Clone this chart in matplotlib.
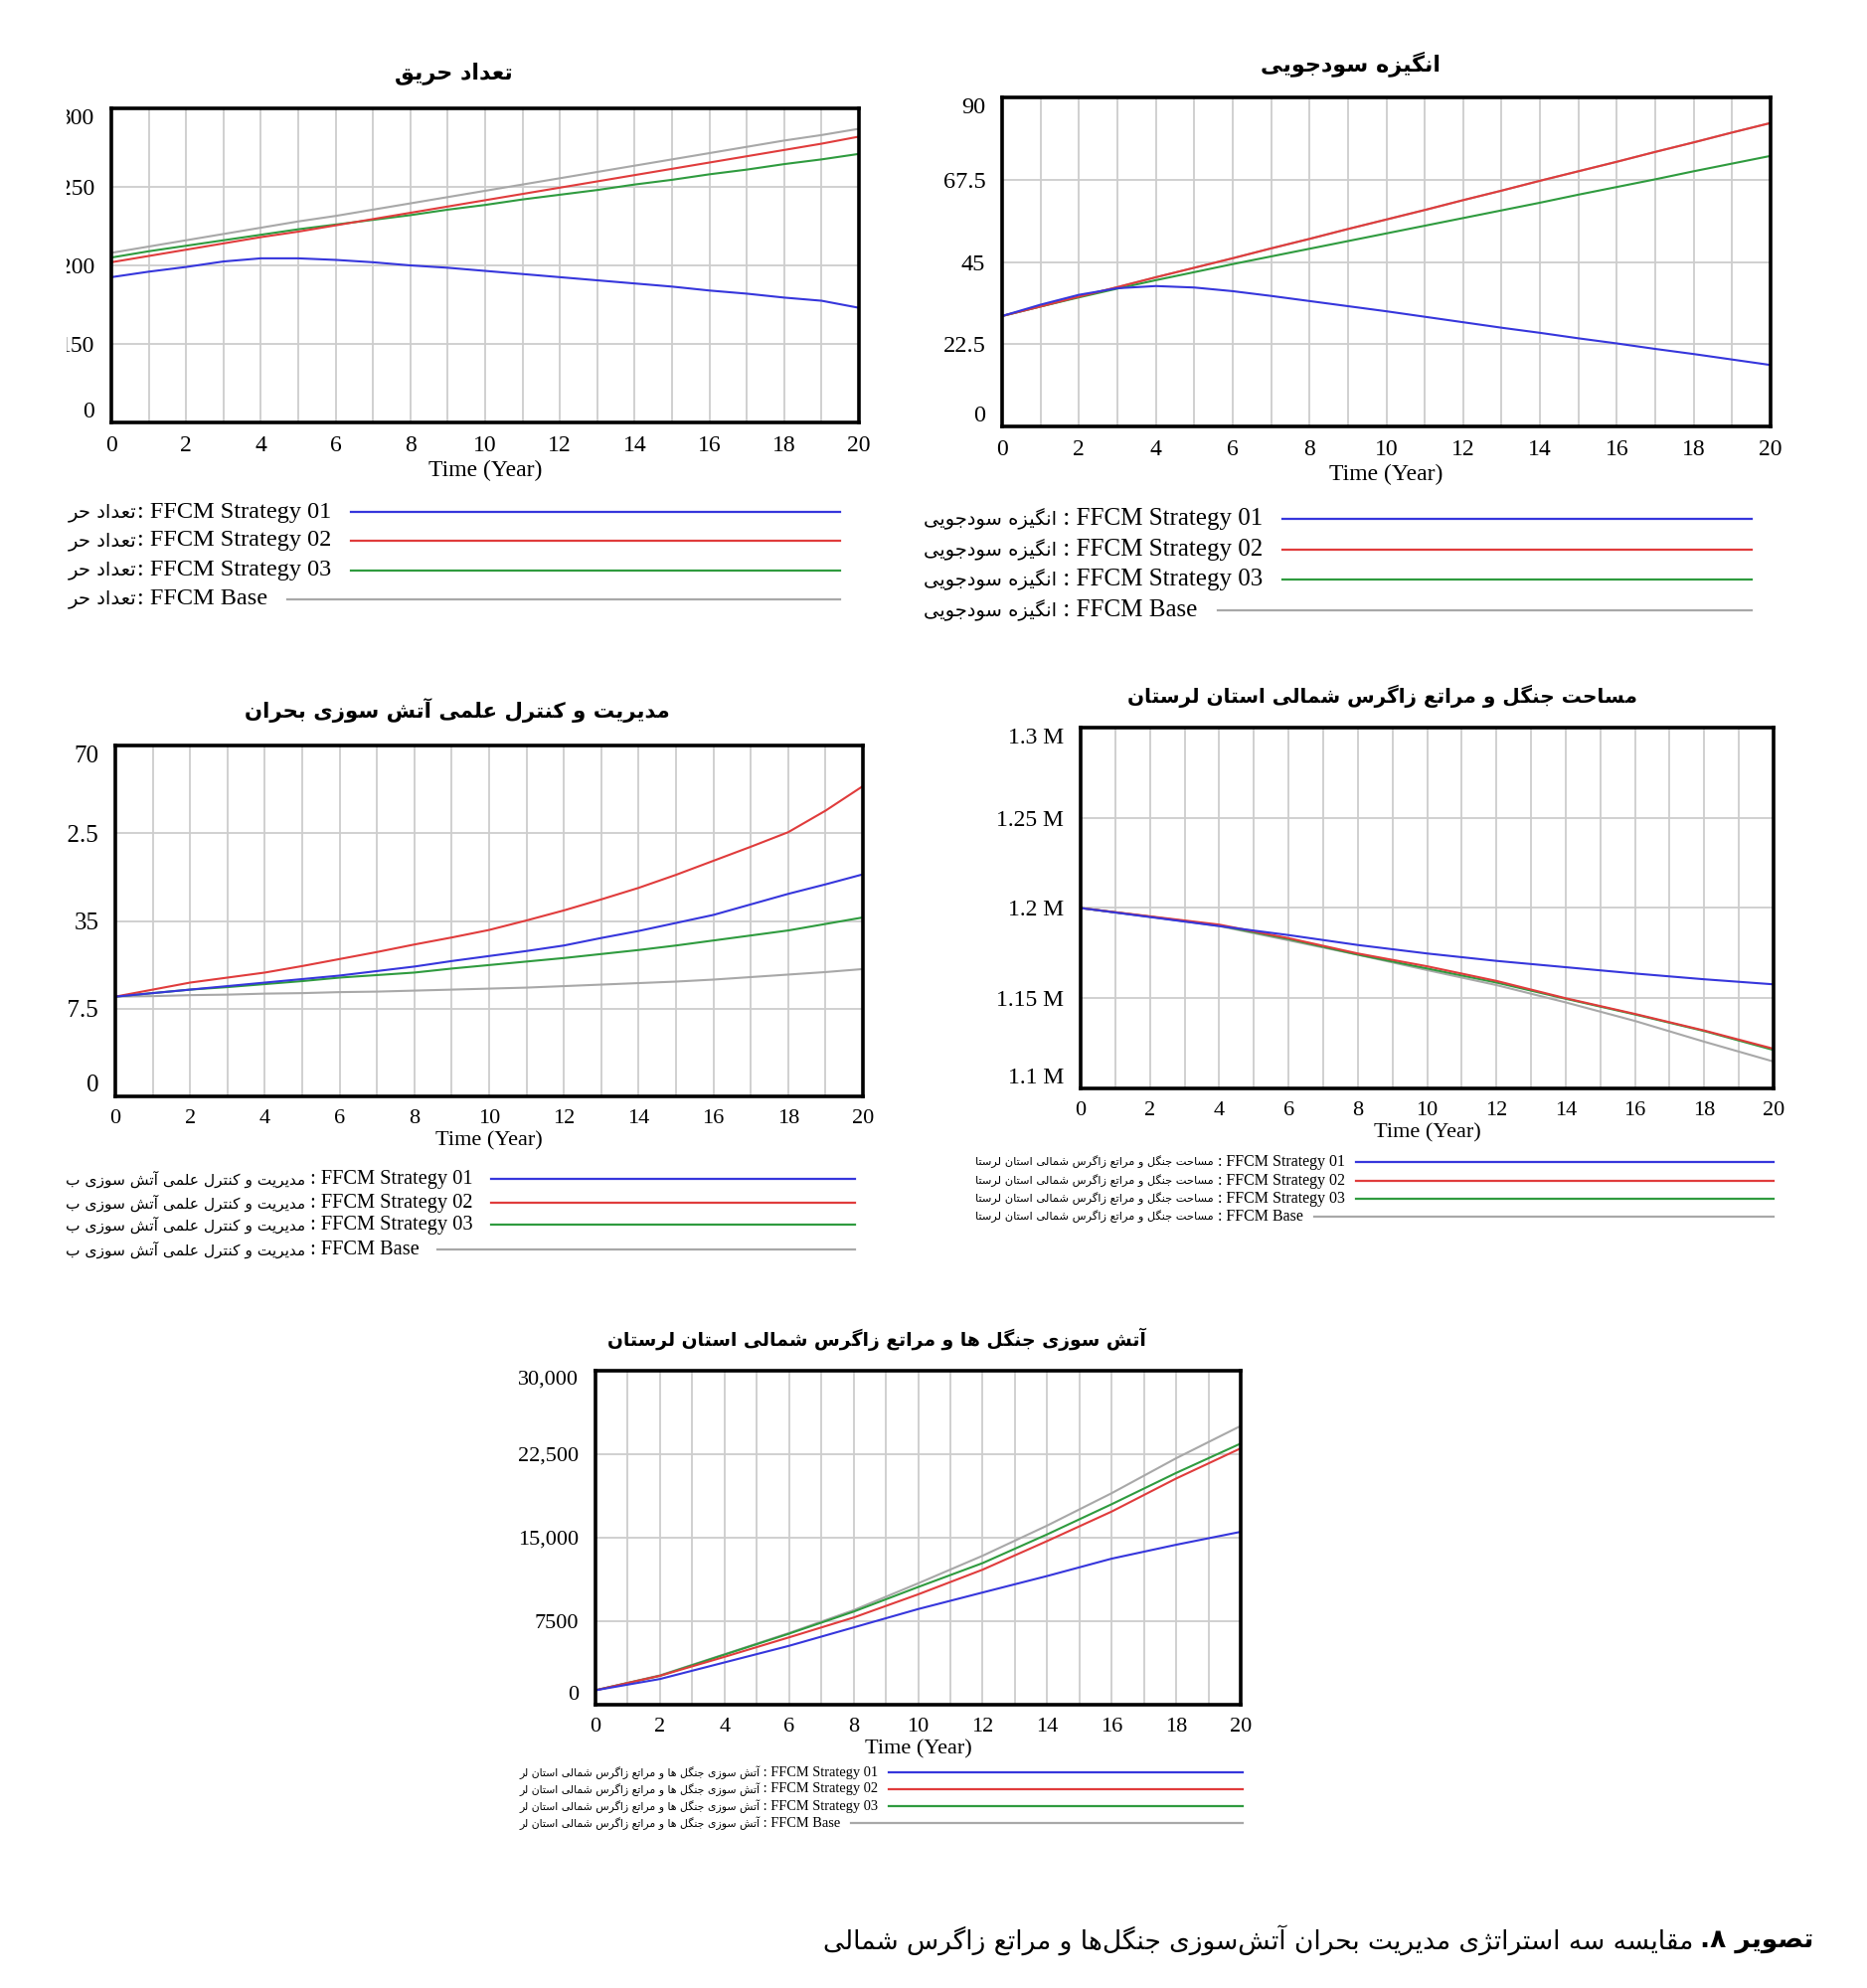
import matplotlib
matplotlib.use("Agg")
import matplotlib.pyplot as plt
from matplotlib.lines import Line2D
from matplotlib.transforms import Bbox, TransformedBbox

plt.rcParams['font.family'] = ['Liberation Serif', 'DejaVu Sans']

W, H = 1878, 2000

# ---------------- data ----------------
years = list(range(21))
years2 = list(range(0, 21, 2))
names = ['FFCM Strategy 01', 'FFCM Strategy 02', 'FFCM Strategy 03', 'FFCM Base']
colors = ['#3636dc', '#e03c3c', '#2f9b3f', '#a8a8a8']

# panel 1: fire count
fire_s1 = [192.5, 196, 199, 202.5, 204.5, 204.5, 203.5, 202, 200, 198.5, 196.5,
           194.5, 192.5, 190.5, 188.5, 186.5, 184, 182, 179.5, 177.5, 173]
fire_s2 = [202, 206, 210, 214, 218, 221.5, 225.5, 229.5, 233.5, 237.5, 241.5,
           245.5, 249.5, 253.5, 257.5, 261.5, 265.5, 269.5, 273.5, 277.5, 282]
fire_s3 = [205, 209, 212.5, 216, 219.5, 223, 226, 229, 232, 235.5, 238.5,
           242, 245, 248, 251.5, 254.5, 258, 261, 264.5, 267.5, 271]
fire_base = [208, 212, 216, 220, 224, 228, 231.5, 235.5, 239.5, 243.5, 247.5,
             251.5, 255.5, 259.5, 263.5, 267.5, 271.5, 275.5, 279.5, 283, 287]
fire_yticks = [100, 150, 200, 250, 300]
fire_ylabels = ['0', '150', '200', '250', '300']

# panel 2: profit motive
profit_s1 = [30.2, 33.3, 36.0, 37.8, 38.4, 38.0, 37.0, 35.7, 34.3, 32.9, 31.5,
             30.0, 28.5, 27.0, 25.6, 24.1, 22.7, 21.2, 19.8, 18.3, 16.8]
profit_s2 = [30.2, 32.8, 35.5, 38.1, 40.8, 43.4, 46.0, 48.7, 51.3, 54.0, 56.6,
             59.2, 61.9, 64.5, 67.2, 69.8, 72.4, 75.1, 77.7, 80.4, 83.0]
profit_s3 = [30.2, 32.8, 35.3, 37.7, 40.0, 42.2, 44.4, 46.5, 48.6, 50.7, 52.8,
             54.9, 57.0, 59.1, 61.2, 63.4, 65.5, 67.6, 69.8, 71.9, 74.0]
profit_base = [30.2, 32.8, 35.5, 38.1, 40.8, 43.4, 46.0, 48.7, 51.3, 54.0, 56.6,
               59.2, 61.9, 64.5, 67.2, 69.8, 72.4, 75.1, 77.7, 80.4, 83.0]
profit_yticks = [0, 22.5, 45, 67.5, 90]
profit_ylabels = ['0', '22.5', '45', '67.5', '90']

# panel 3: scientific management
mgmt_s1 = [19.9, 20.6, 21.3, 22.0, 22.7, 23.4, 24.1, 25.0, 25.9, 27.0, 28.0,
           29.0, 30.1, 31.6, 33.0, 34.6, 36.2, 38.3, 40.4, 42.3, 44.3]
mgmt_s2 = [19.9, 21.3, 22.7, 23.7, 24.7, 26.0, 27.4, 28.8, 30.3, 31.7, 33.2,
           35.1, 37.1, 39.3, 41.6, 44.2, 47.0, 49.8, 52.7, 57.0, 61.9]
mgmt_s3 = [19.9, 20.6, 21.3, 21.8, 22.4, 23.0, 23.7, 24.2, 24.7, 25.5, 26.2,
           26.9, 27.6, 28.4, 29.2, 30.1, 31.1, 32.1, 33.1, 34.4, 35.7]
mgmt_base = [19.9, 20.0, 20.2, 20.3, 20.5, 20.6, 20.8, 20.9, 21.1, 21.3, 21.5,
             21.7, 22.0, 22.3, 22.6, 22.9, 23.3, 23.8, 24.3, 24.8, 25.4]
mgmt_yticks = [0, 17.5, 35, 52.5, 70]
mgmt_ylabels = ['0', '17.5', '35', '52.5', '70']

# panel 4: forest and rangeland area
area_s1 = [1200000, 1195000, 1190000, 1185000, 1179500, 1174800,
           1170700, 1167200, 1163700, 1160500, 1157700]
area_s2 = [1200000, 1195400, 1190800, 1183300, 1174800, 1167700,
           1159600, 1150000, 1141300, 1132100, 1122000]
area_s3 = [1200000, 1195200, 1190300, 1182800, 1174200, 1166500,
           1158700, 1149700, 1141000, 1131800, 1121300]
area_base = [1200000, 1195200, 1190000, 1182100, 1174100, 1165600,
             1157300, 1147700, 1137400, 1125900, 1114900]
area_yticks = [1100000, 1150000, 1200000, 1250000, 1300000]
area_ylabels = ['1.1 M', '1.15 M', '1.2 M', '1.25 M', '1.3 M']

# panel 5: burnt forest and rangeland
burn_s1 = [1300, 2310, 3800, 5290, 6940, 8590, 10080, 11560, 13120, 14370, 15530]
burn_s2 = [1300, 2600, 4300, 6050, 7830, 9910, 12130, 14700, 17350, 20320, 23030]
burn_s3 = [1300, 2600, 4500, 6380, 8360, 10570, 12720, 15300, 18010, 20820, 23460]
burn_base = [1300, 2640, 4530, 6440, 8490, 10900, 13380, 16090, 19000, 22140, 25040]
burn_yticks = [0, 7500, 15000, 22500, 30000]
burn_ylabels = ['0', '7500', '15,000', '22,500', '30,000']

title1 = 'تعداد حریق'
title2 = 'انگیزه سودجویی'
title3 = 'مدیریت و کنترل علمی آتش سوزی بحران'
title4 = 'مساحت جنگل و مراتع زاگرس شمالی استان لرستان'
title5 = 'آتش سوزی جنگل ها و مراتع زاگرس شمالی استان لرستان'
leg1 = 'تعداد حر'
leg2 = 'انگیزه سودجویی'
leg3 = 'مدیریت و کنترل علمی آتش سوزی ب'
leg4 = 'مساحت جنگل و مراتع زاگرس شمالی استان لرستا'
leg5 = 'آتش سوزی جنگل ها و مراتع زاگرس شمالی استان لر'
caption_bold = 'تصویر ۸.'
caption_rest = 'مقایسه سه استراتژی مدیریت بحران آتش\u200cسوزی جنگل\u200cها و مراتع زاگرس شمالی'

# ---------------- persian shaping (no bidi engine in matplotlib) ----------------
DUAL = {
    '\u0628': '\uFE8F\uFE90\uFE91\uFE92', '\u062A': '\uFE95\uFE96\uFE97\uFE98',
    '\u062B': '\uFE99\uFE9A\uFE9B\uFE9C', '\u062C': '\uFE9D\uFE9E\uFE9F\uFEA0',
    '\u062D': '\uFEA1\uFEA2\uFEA3\uFEA4', '\u062E': '\uFEA5\uFEA6\uFEA7\uFEA8',
    '\u0633': '\uFEB1\uFEB2\uFEB3\uFEB4', '\u0634': '\uFEB5\uFEB6\uFEB7\uFEB8',
    '\u0635': '\uFEB9\uFEBA\uFEBB\uFEBC', '\u0636': '\uFEBD\uFEBE\uFEBF\uFEC0',
    '\u0637': '\uFEC1\uFEC2\uFEC3\uFEC4', '\u0638': '\uFEC5\uFEC6\uFEC7\uFEC8',
    '\u0639': '\uFEC9\uFECA\uFECB\uFECC', '\u063A': '\uFECD\uFECE\uFECF\uFED0',
    '\u0641': '\uFED1\uFED2\uFED3\uFED4', '\u0642': '\uFED5\uFED6\uFED7\uFED8',
    '\u0644': '\uFEDD\uFEDE\uFEDF\uFEE0', '\u0645': '\uFEE1\uFEE2\uFEE3\uFEE4',
    '\u0646': '\uFEE5\uFEE6\uFEE7\uFEE8', '\u0647': '\uFEE9\uFEEA\uFEEB\uFEEC',
    '\u067E': '\uFB56\uFB57\uFB58\uFB59', '\u0686': '\uFB7A\uFB7B\uFB7C\uFB7D',
    '\u06A9': '\uFB8E\uFB8F\uFB90\uFB91', '\u06AF': '\uFB92\uFB93\uFB94\uFB95',
    '\u06CC': '\uFBFC\uFBFD\uFBFE\uFBFF',
}
RIGHT = {
    '\u0627': '\uFE8D\uFE8E', '\u0622': '\uFE81\uFE82', '\u062F': '\uFEA9\uFEAA',
    '\u0630': '\uFEAB\uFEAC', '\u0631': '\uFEAD\uFEAE', '\u0632': '\uFEAF\uFEB0',
    '\u0698': '\uFB8A\uFB8B', '\u0648': '\uFEED\uFEEE',
}


def fa(s):
    s = s.replace('\u064A', '\u06CC').replace('\u0643', '\u06A9')
    out = []
    for i, c in enumerate(s):
        if c == '\u200c':
            continue
        prev = s[i - 1] if i > 0 else ''
        nxt = s[i + 1] if i + 1 < len(s) else ''
        jp = prev in DUAL
        if c in RIGHT:
            out.append(RIGHT[c][1] if jp else RIGHT[c][0])
        elif c in DUAL:
            jn = nxt in DUAL or nxt in RIGHT
            idx = 3 if (jp and jn) else 1 if jp else 2 if jn else 0
            out.append(DUAL[c][idx])
        else:
            out.append(c)
    return ''.join(reversed(out))


# ---------------- figure ----------------
fig = plt.figure(figsize=(W / 100, H / 100), dpi=100)
renderer = fig.canvas.get_renderer()


def fx(px):
    return px / W


def fy(px):
    return 1 - px / H


def panel(box, x, series, yticks, ylabels, fs, yfs, title, title_xy, title_fs, clip_x=None):
    l, t, r, b = box
    ax = fig.add_axes([fx(l), fy(b), fx(r - l), (b - t) / H])
    for ys, c in reversed(list(zip(series, colors))):
        ax.plot(x, ys, color=c, lw=1.5)
    ax.set_xlim(0, 20)
    ax.set_ylim(yticks[0], yticks[-1])
    ax.set_xticks(range(0, 21, 2))
    ax.set_xticks(range(21), minor=True)
    ax.set_yticks(yticks, ylabels)
    ax.tick_params(which='both', length=0)
    ax.tick_params(axis='x', labelsize=fs, pad=9)
    ax.tick_params(axis='y', labelsize=yfs, pad=12)
    ax.set_axisbelow(True)
    ax.grid(True, which='both', axis='x', color='#cdcdcd', lw=1.3)
    ax.grid(True, which='major', axis='y', color='#cdcdcd', lw=1.3)
    for s in ax.spines.values():
        s.set_linewidth(2.6)
        s.set_color('black')
    ticks = ax.yaxis.get_major_ticks()
    ticks[0].label1.set_va('bottom')
    ticks[-1].label1.set_va('top')
    if clip_x is not None:
        clip = TransformedBbox(Bbox([[fx(clip_x), 0], [1, 1]]), fig.transFigure)
        for tk in ticks:
            tk.label1.set_clip_box(clip)
            tk.label1.set_clip_on(True)
    ax.set_xlabel('Time (Year)', fontsize=fs, labelpad=3)
    fig.text(fx(title_xy[0]), fy(title_xy[1]), fa(title), fontsize=title_fs,
             fontweight='bold', family='DejaVu Sans', ha='center', va='center')
    return ax


def legend(x0, x1, ys, label, fs_fa, fs_en, gap, sep=' : '):
    for y, name, c in zip(ys, names, colors):
        t1 = fig.text(fx(x0), fy(y), fa(label), fontsize=fs_fa, family='DejaVu Sans',
                      ha='left', va='center')
        bb = t1.get_window_extent(renderer)
        t2 = fig.text(bb.x1 / W, fy(y), sep + name, fontsize=fs_en, ha='left', va='center')
        bb2 = t2.get_window_extent(renderer)
        fig.add_artist(Line2D([(bb2.x1 + gap) / W, fx(x1)], [fy(y), fy(y)],
                              transform=fig.transFigure, color=c, lw=1.6))


panel((112, 109, 864, 425), years, [fire_s1, fire_s2, fire_s3, fire_base],
      fire_yticks, fire_ylabels, 17, 17, title1, (456, 74), 16, clip_x=67)
legend(69, 845, [515, 544, 574, 603], leg1, 14, 17.5, 20, sep=': ')

panel((1008, 98, 1781, 429), years, [profit_s1, profit_s2, profit_s3, profit_base],
      profit_yticks, profit_ylabels, 17, 17.5, title2, (1358, 64), 16)
legend(929, 1762, [522, 553, 583, 614], leg2, 14, 18, 20)

panel((116, 750, 868, 1103), years, [mgmt_s1, mgmt_s2, mgmt_s3, mgmt_base],
      mgmt_yticks, mgmt_ylabels, 16, 18, title3, (460, 715), 15.3, clip_x=68)
legend(66, 860, [1186, 1210, 1232, 1257], leg3, 11.1, 14.7, 18)

panel((1087, 732, 1784, 1095), years2, [area_s1, area_s2, area_s3, area_base],
      area_yticks, area_ylabels, 16, 17, title4, (1390, 700), 14.4)
legend(981, 1784, [1169, 1188, 1206, 1224], leg4, 8.2, 11.5, 11)

panel((599, 1379, 1248, 1715), years2, [burn_s1, burn_s2, burn_s3, burn_base],
      burn_yticks, burn_ylabels, 16, 16, title5, (882, 1347), 13.5)
legend(522, 1250, [1783, 1800, 1817, 1834], leg5, 7.8, 10.4, 11)

# caption
cb = fig.text(fx(1824), fy(1952), fa(caption_bold), fontsize=19, fontweight='bold',
              family='DejaVu Sans', ha='right', va='center')
bbc = cb.get_window_extent(renderer)
fig.text((bbc.x0 - 6) / W, fy(1952), fa(caption_rest), fontsize=19,
         family='DejaVu Sans', ha='right', va='center')

fig.savefig('out.png', dpi=100, facecolor='white')
